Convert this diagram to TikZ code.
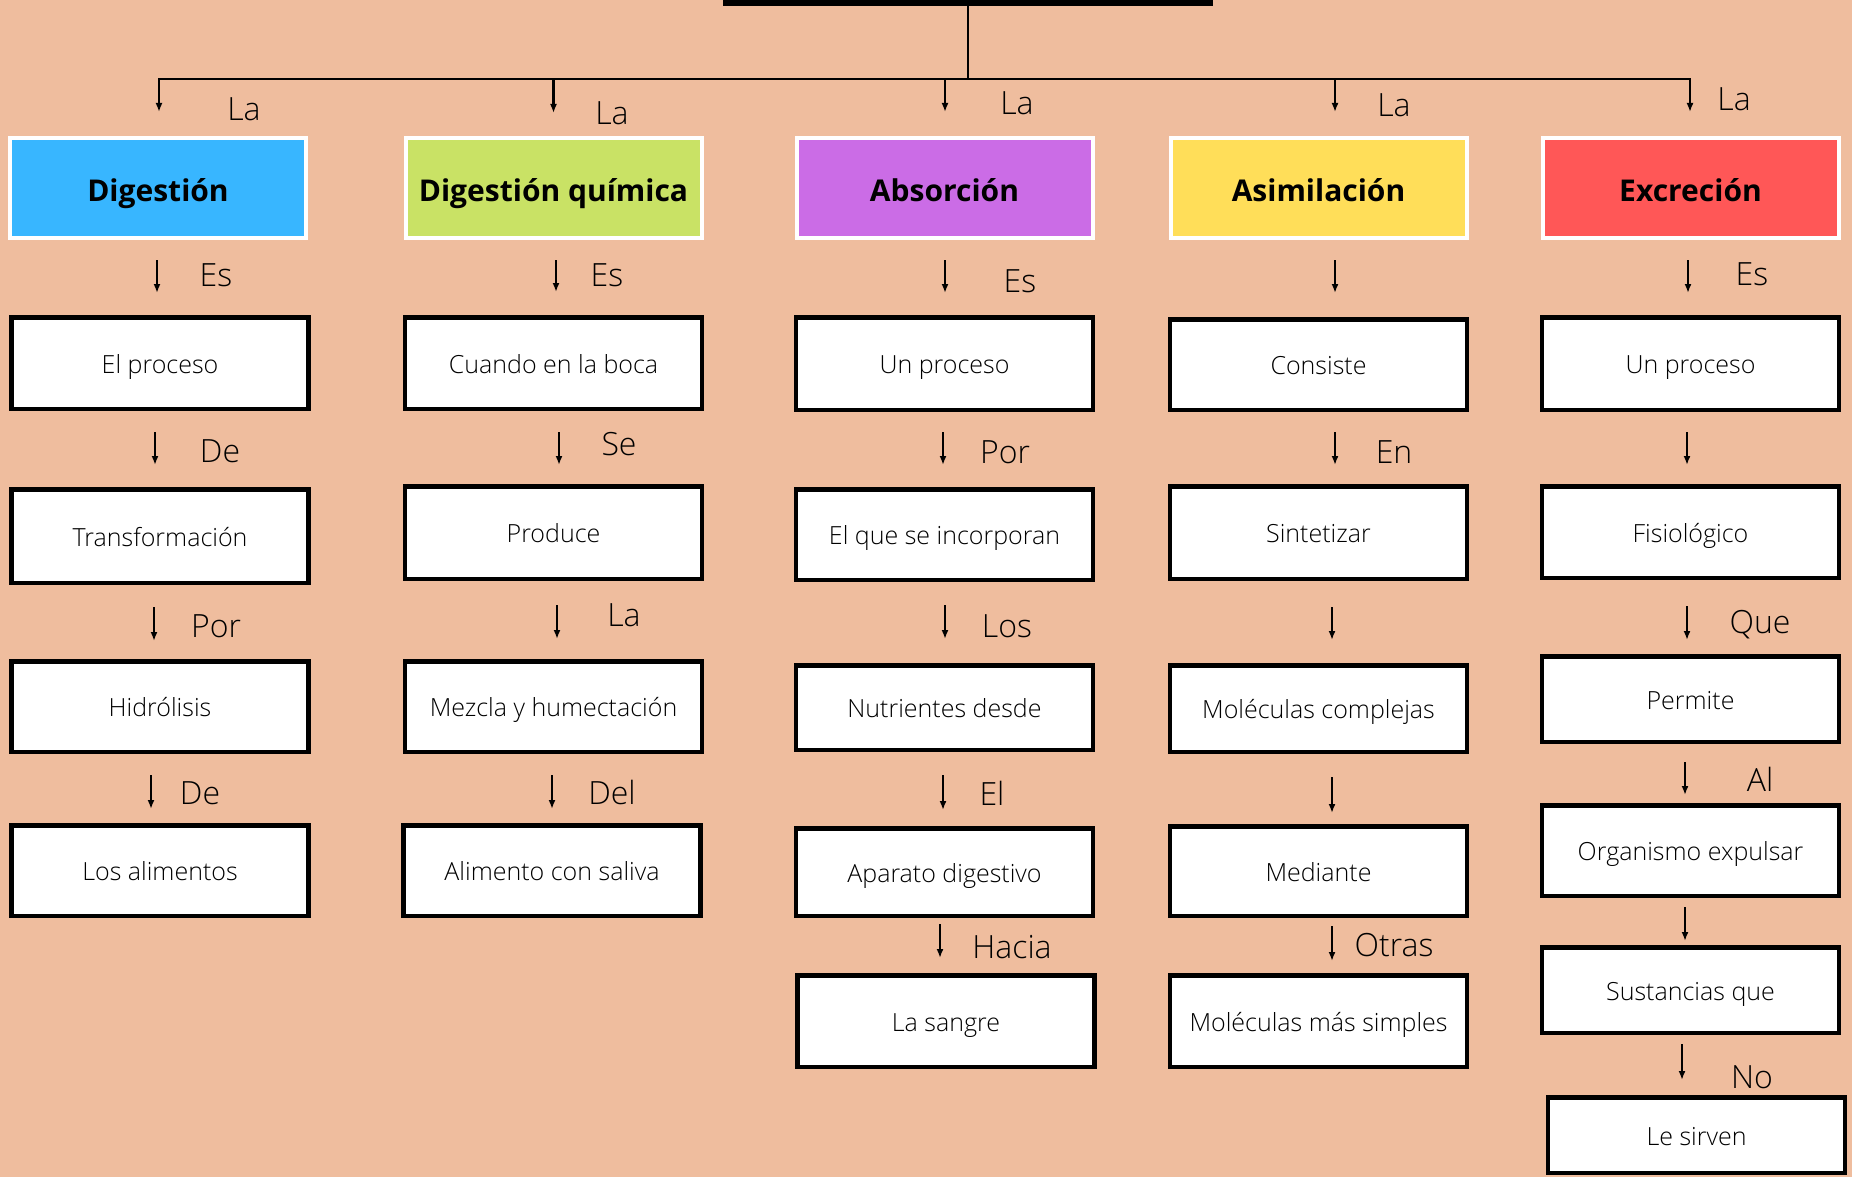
\documentclass[tikz,border=0pt]{standalone}
\usepackage{fontspec}
\setmainfont{Open Sans}
\IfFontExistsTF{Open Sans Light}{\newfontfamily\ltf{Open Sans Light}}{\newfontfamily\ltf{Open Sans}}
\IfFontExistsTF{Open Sans ExtraBold}{\newfontfamily\xbf{Open Sans ExtraBold}}{\newfontfamily\xbf{Open Sans}[UprightFont=* Bold]}
\usetikzlibrary{arrows.meta}
\definecolor{bg}{RGB}{239,189,158}
\definecolor{cblue}{HTML}{38B6FF}
\definecolor{cgreen}{HTML}{C9E265}
\definecolor{cpurple}{HTML}{CB6CE6}
\definecolor{cyellow}{HTML}{FFDE59}
\definecolor{cred}{HTML}{FF5757}
\tikzset{
 hdr/.style={draw=white, line width=4pt, minimum width=296pt, minimum height=100pt, inner sep=0pt, text height=26pt, text depth=0pt, font=\xbf\fontsize{30}{36}\selectfont},
 bx/.style={draw=black, line width=4.5pt, fill=white, minimum width=297pt, inner sep=0pt, text height=20pt, text depth=0pt, font=\ltf\fontsize{25}{30}\selectfont},
 lbl/.style={font=\ltf\fontsize{32}{38}\selectfont, inner sep=0pt, text height=22.8pt, text depth=0pt},
 arr/.style={line width=2.2pt, -{Latex[length=9pt,width=7pt]}},
 ln/.style={line width=2.5pt}
}
\newcommand\conn[5]{\draw[arr,shorten <=#3pt,shorten >=#4pt] ([xshift=#5pt]#1.south) -- ([xshift=#5pt]#1.south |- #2.north);}
\begin{document}
\begin{tikzpicture}[x=1pt,y=-1pt]
\fill[bg] (0,0) rectangle (1852,1177);
\useasboundingbox (0,0) rectangle (1852,1177);
\node[fill=black, minimum width=490pt, minimum height=6pt, inner sep=0pt] (title) at (968,3) {};
\coordinate (bus) at (968,79);
% headers
\node[hdr, fill=cblue] (h1) at (158,188) {Digestión};
\node[hdr, fill=cgreen] (h2) at (553.5,188) {Digestión química};
\node[hdr, fill=cpurple] (h3) at (944.5,188) {Absorción};
\node[hdr, fill=cyellow] (h4) at (1318.5,188) {Asimilación};
\node[hdr, fill=cred] (h5) at (1690.5,188) {Excreción};
\draw[ln] (title.south) -- (bus);
\draw[arr, shorten >=24pt] (bus) -| ([xshift=1pt]h1.north);
\draw[arr, shorten >=23pt] (bus) -| ([xshift=0pt]h2.north);
\draw[arr, shorten >=24pt] (bus) -| ([xshift=0.5pt]h3.north);
\draw[arr, shorten >=24pt] (bus) -| ([xshift=16.5pt]h4.north);
\draw[arr, shorten >=24pt] (bus) -| ([xshift=-0.5pt]h5.north);
\node[lbl] (t1) at (244,109) {La};
\node[lbl] (t2) at (612,113) {La};
\node[lbl] (t3) at (1017,103) {La};
\node[lbl] (t4) at (1394,105) {La};
\node[lbl] (t5) at (1734,99) {La};
% column 1
\node[bx, minimum height=91.5pt] (b11) at (160,363) {El proceso};
\node[bx, minimum height=93.5pt] (b12) at (160,536) {Transformación};
\node[bx, minimum height=90.5pt] (b13) at (160,706.5) {Hidrólisis};
\node[bx, minimum height=90.5pt] (b14) at (160,870.5) {Los alimentos};
\conn{h1}{b11}{20}{22}{-1}
\conn{b11}{b12}{21}{22}{-5}
\conn{b12}{b13}{22}{18}{-6}
\conn{b13}{b14}{21}{14}{-9}
\node[lbl] (l11) at (216,275) {Es};
\node[lbl] (l12) at (220,451) {De};
\node[lbl] (l13) at (216,626) {Por};
\node[lbl] (l14) at (200,793) {De};
% column 2
\node[bx, minimum height=91.5pt] (b21) at (553.5,363) {Cuando en la boca};
\node[bx, minimum height=92.5pt] (b22) at (553.5,532.5) {Produce};
\node[bx, minimum height=90.5pt] (b23) at (553.5,706.5) {Mezcla y humectación};
\node[bx, minimum height=90.5pt] (b24) at (552,870.5) {Alimento con saliva};
\conn{h2}{b21}{20}{23}{2.5}
\conn{b21}{b22}{21}{19}{5.5}
\conn{b22}{b23}{24}{20}{3.5}
\conn{b23}{b24}{21}{14}{-1.5}
\node[lbl] (l21) at (607,275) {Es};
\node[lbl] (l22) at (619,444) {Se};
\node[lbl] (l23) at (624,615) {La};
\node[lbl] (l24) at (612,793) {Del};
% column 3
\node[bx, minimum height=92.5pt] (b31) at (944.5,363.5) {Un proceso};
\node[bx, minimum height=90.5pt] (b32) at (944.5,534.5) {El que se incorporan};
\node[bx, minimum height=84.5pt] (b33) at (944.5,707.5) {Nutrientes desde};
\node[bx, minimum height=87.5pt] (b34) at (944.5,872) {Aparato digestivo};
\node[bx, minimum height=91.5pt] (b35) at (946,1021) {La sangre};
\conn{h3}{b31}{20}{22}{0.5}
\conn{b31}{b32}{20}{22}{-1.5}
\conn{b32}{b33}{23}{24}{0.5}
\conn{b33}{b34}{23}{16}{-1.5}
\conn{b34}{b35}{6}{15}{-4.5}
\node[lbl] (l31) at (1020,281) {Es};
\node[lbl] (l32) at (1005,452) {Por};
\node[lbl] (l33) at (1007,626) {Los};
\node[lbl] (l34) at (992,794) {El};
\node[lbl] (l35) at (1012,947) {Hacia};
% column 4
\node[bx, minimum height=90.5pt] (b41) at (1318.5,364.5) {Consiste};
\node[bx, minimum height=92.5pt] (b42) at (1318.5,532.5) {Sintetizar};
\node[bx, minimum height=86.5pt] (b43) at (1318.5,708.5) {Moléculas complejas};
\node[bx, minimum height=89.5pt] (b44) at (1318.5,871) {Mediante};
\node[bx, minimum height=91.5pt] (b45) at (1318.5,1021) {Moléculas más simples};
\conn{h4}{b41}{20}{24}{16.5}
\conn{b41}{b42}{20}{19}{16.5}
\conn{b42}{b43}{26}{23}{13.5}
\conn{b43}{b44}{23}{11}{13.5}
\conn{b44}{b45}{8}{12}{13.5}
\node[lbl] (l42) at (1394,452) {En};
\node[lbl] (l45) at (1394,945) {Otras};
% column 5
\node[bx, minimum height=92.5pt] (b51) at (1690.5,363.5) {Un proceso};
\node[bx, minimum height=91.5pt] (b52) at (1690.5,532) {Fisiológico};
\node[bx, minimum height=85.5pt] (b53) at (1690.5,699) {Permite};
\node[bx, minimum height=90.5pt] (b54) at (1690.5,850.5) {Organismo expulsar};
\node[bx, minimum height=85.5pt] (b55) at (1690.5,990) {Sustancias que};
\node[bx, minimum height=75.5pt] (b56) at (1696.5,1135) {Le sirven};
\conn{h5}{b51}{20}{22}{-2.5}
\conn{b51}{b52}{20}{19}{-3.5}
\conn{b52}{b53}{26}{14}{-3.5}
\conn{b53}{b54}{18}{8}{-5.5}
\conn{b54}{b55}{9}{4}{-5.5}
\conn{b55}{b56}{9}{15}{-8.5}
\node[lbl] (l51) at (1752,274) {Es};
\node[lbl] (l53) at (1760,622) {Que};
\node[lbl] (l54) at (1760,780) {Al};
\node[lbl] (l56) at (1752,1077) {No};
\end{tikzpicture}
\end{document}
